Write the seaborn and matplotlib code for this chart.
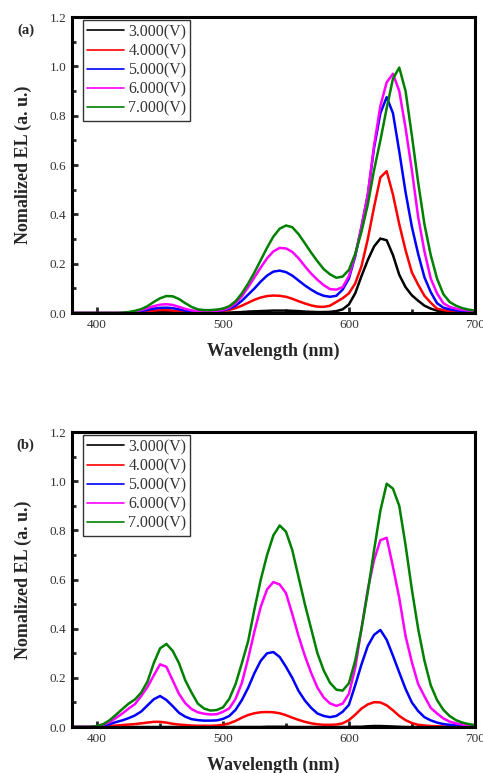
import numpy as np
import pandas as pd
import seaborn as sns
import matplotlib
matplotlib.use('Agg')
import matplotlib.pyplot as plt
from matplotlib.ticker import MultipleLocator

# Data (5 nm grid, 380 - 700 nm)
wavelength = list(range(380, 701, 5))

voltages = ["3.000(V)", "4.000(V)", "5.000(V)", "6.000(V)", "7.000(V)"]
colors = ["#000000", "#ff0000", "#0000ff", "#ff00ff", "#008000"]

# panel (a)
a_3v = [0, 0, 0, 0, 0, 0, 0, 0, 0, 0, 0, 0, 0.001,
        0.003, 0.005, 0.005, 0.004, 0.002, 0.002, 0.001, 0.001, 0.001, 0.001, 0.001, 0.002, 0.002,
        0.003, 0.004, 0.006, 0.007, 0.008, 0.009, 0.010, 0.010, 0.010, 0.009, 0.008, 0.006, 0.005,
        0.004, 0.004, 0.005, 0.008, 0.015, 0.035, 0.08, 0.15, 0.215, 0.27, 0.302, 0.295, 0.235,
        0.155, 0.105, 0.072, 0.05, 0.03, 0.018, 0.01, 0.006, 0.004, 0.003, 0.002, 0.001, 0.001]
a_4v = [0, 0, 0, 0, 0, 0, 0, 0, 0, 0, 0.002, 0.004, 0.007,
        0.010, 0.012, 0.012, 0.010, 0.007, 0.005, 0.004, 0.004, 0.004, 0.005, 0.006, 0.009, 0.013,
        0.020, 0.030, 0.042, 0.054, 0.063, 0.069, 0.071, 0.070, 0.066, 0.058, 0.048, 0.039, 0.031,
        0.026, 0.025, 0.03, 0.045, 0.06, 0.08, 0.12, 0.19, 0.30, 0.43, 0.55, 0.575, 0.48,
        0.36, 0.255, 0.165, 0.115, 0.07, 0.042, 0.018, 0.012, 0.008, 0.006, 0.005, 0.004, 0.003]
a_5v = [0, 0, 0, 0, 0, 0, 0, 0, 0, 0.002, 0.004, 0.008, 0.013,
        0.018, 0.021, 0.022, 0.020, 0.015, 0.010, 0.007, 0.006, 0.006, 0.006, 0.008, 0.011, 0.018,
        0.030, 0.050, 0.075, 0.100, 0.128, 0.152, 0.168, 0.172, 0.166, 0.152, 0.132, 0.112, 0.095,
        0.080, 0.070, 0.066, 0.070, 0.095, 0.14, 0.23, 0.35, 0.48, 0.67, 0.81, 0.875, 0.81,
        0.655, 0.49, 0.35, 0.24, 0.145, 0.085, 0.04, 0.022, 0.015, 0.011, 0.008, 0.006, 0.005]
a_6v = [0, 0, 0, 0, 0, 0, 0, 0, 0, 0.003, 0.006, 0.012, 0.020,
        0.028, 0.034, 0.036, 0.033, 0.025, 0.017, 0.011, 0.008, 0.007, 0.007, 0.009, 0.013, 0.022,
        0.040, 0.068, 0.105, 0.145, 0.185, 0.222, 0.250, 0.264, 0.262, 0.248, 0.222, 0.190, 0.160,
        0.135, 0.113, 0.097, 0.095, 0.105, 0.15, 0.235, 0.35, 0.48, 0.68, 0.84, 0.935, 0.97,
        0.90, 0.75, 0.58, 0.39, 0.25, 0.14, 0.08, 0.04, 0.025, 0.018, 0.013, 0.010, 0.008]
a_7v = [0, 0, 0, 0, 0, 0, 0, 0, 0.001, 0.004, 0.009, 0.016, 0.028,
        0.045, 0.060, 0.069, 0.068, 0.057, 0.040, 0.025, 0.015, 0.012, 0.012, 0.014, 0.018, 0.028,
        0.048, 0.080, 0.120, 0.165, 0.215, 0.265, 0.310, 0.342, 0.355, 0.348, 0.320, 0.283, 0.245,
        0.210, 0.178, 0.157, 0.143, 0.148, 0.175, 0.24, 0.33, 0.44, 0.58, 0.70, 0.83, 0.95,
        0.995, 0.90, 0.72, 0.53, 0.36, 0.235, 0.14, 0.077, 0.045, 0.03, 0.02, 0.014, 0.01]

# panel (b)
b_3v = [0, 0, 0, 0, 0, 0, 0, 0, 0, 0, 0, 0, 0,
        0, 0, 0, 0, 0, 0, 0, 0, 0, 0, 0, 0, 0,
        0, 0, 0, 0, 0, 0.001, 0.001, 0.001, 0.001, 0, 0, 0, 0,
        0, 0, 0, 0, 0, 0, 0.001, 0.001, 0.003, 0.004, 0.004, 0.003, 0.002,
        0.001, 0, 0, 0, 0, 0, 0, 0, 0, 0, 0, 0, 0]
b_4v = [0, 0, 0, 0, 0, 0.002, 0.004, 0.006, 0.008, 0.010, 0.012, 0.015, 0.018,
        0.021, 0.021, 0.018, 0.013, 0.010, 0.008, 0.006, 0.005, 0.005, 0.005, 0.006, 0.009, 0.015,
        0.025, 0.038, 0.049, 0.056, 0.060, 0.061, 0.060, 0.056, 0.048, 0.038, 0.029, 0.021, 0.015,
        0.011, 0.009, 0.009, 0.010, 0.015, 0.028, 0.05, 0.075, 0.092, 0.101, 0.10, 0.088, 0.068,
        0.045, 0.028, 0.016, 0.009, 0.006, 0.004, 0.003, 0.002, 0.002, 0.001, 0.001, 0.001, 0.001]
b_5v = [0, 0, 0, 0, 0.002, 0.005, 0.012, 0.020, 0.027, 0.036, 0.047, 0.063, 0.088,
        0.113, 0.126, 0.110, 0.085, 0.058, 0.042, 0.032, 0.028, 0.026, 0.026, 0.027, 0.033, 0.045,
        0.070, 0.110, 0.160, 0.220, 0.270, 0.300, 0.305, 0.285, 0.245, 0.200, 0.147, 0.108, 0.078,
        0.055, 0.045, 0.040, 0.045, 0.062, 0.09, 0.17, 0.255, 0.33, 0.375, 0.395, 0.355, 0.29,
        0.222, 0.155, 0.10, 0.065, 0.04, 0.027, 0.018, 0.012, 0.009, 0.007, 0.005, 0.004, 0.003]
b_6v = [0, 0, 0, 0, 0.003, 0.010, 0.020, 0.037, 0.055, 0.075, 0.093, 0.126, 0.163,
        0.210, 0.255, 0.245, 0.190, 0.135, 0.097, 0.073, 0.060, 0.054, 0.051, 0.052, 0.062, 0.076,
        0.115, 0.180, 0.280, 0.390, 0.490, 0.560, 0.590, 0.580, 0.545, 0.460, 0.370, 0.290, 0.220,
        0.160, 0.120, 0.096, 0.086, 0.095, 0.135, 0.24, 0.40, 0.56, 0.68, 0.76, 0.77, 0.652,
        0.525, 0.37, 0.264, 0.175, 0.125, 0.078, 0.055, 0.035, 0.022, 0.015, 0.010, 0.007, 0.005]
b_7v = [0, 0, 0, 0, 0.004, 0.012, 0.028, 0.050, 0.073, 0.095, 0.112, 0.140, 0.185,
        0.260, 0.320, 0.338, 0.310, 0.260, 0.190, 0.140, 0.095, 0.075, 0.067, 0.069, 0.080, 0.115,
        0.175, 0.260, 0.350, 0.480, 0.600, 0.700, 0.780, 0.820, 0.795, 0.720, 0.610, 0.500, 0.400,
        0.300, 0.230, 0.180, 0.152, 0.148, 0.178, 0.27, 0.40, 0.55, 0.72, 0.88, 0.99, 0.97,
        0.90, 0.74, 0.56, 0.40, 0.27, 0.17, 0.11, 0.07, 0.045, 0.028, 0.018, 0.012, 0.008]

panels = [("(a)", [a_3v, a_4v, a_5v, a_6v, a_7v]),
          ("(b)", [b_3v, b_4v, b_5v, b_6v, b_7v])]

sns.set_style("ticks")
plt.rcParams['font.family'] = ['Liberation Serif', 'DejaVu Serif']

fig = plt.figure(figsize=(4.83, 7.73), dpi=100)
# axes boxes in figure fractions (left, bottom, width, height)
boxes = [(0.149, 0.595, 0.834, 0.383), (0.149, 0.0595, 0.834, 0.3815)]

for (tag, series), box in zip(panels, boxes):
    ax = fig.add_axes(box)
    df = pd.DataFrame({"Wavelength": wavelength})
    for v, s in zip(voltages, series):
        df[v] = s
    long_df = df.melt(id_vars="Wavelength", var_name="Voltage", value_name="EL")

    sns.lineplot(data=long_df, x="Wavelength", y="EL", hue="Voltage",
                 hue_order=voltages, palette=colors, linewidth=1.8, ax=ax)

    ax.set_xlim(380, 700)
    ax.set_ylim(0, 1.2)
    ax.xaxis.set_major_locator(MultipleLocator(100))
    ax.xaxis.set_minor_locator(MultipleLocator(50))
    ax.yaxis.set_major_locator(MultipleLocator(0.2))
    ax.yaxis.set_minor_locator(MultipleLocator(0.1))
    ax.yaxis.set_major_formatter(matplotlib.ticker.FormatStrFormatter('%.1f'))
    ax.tick_params(which='major', direction='in', length=4, width=2, labelsize=9.5,
                   labelcolor='#333333', pad=4)
    ax.tick_params(which='minor', direction='in', length=3, width=2)
    for sp in ax.spines.values():
        sp.set_linewidth(2.2)
        sp.set_color('black')

    ax.set_xlabel("Wavelength (nm)", fontsize=13, fontweight='bold', labelpad=9)
    ax.set_ylabel("Nomalized EL (a. u.)", fontsize=13, fontweight='bold', labelpad=13)

    handles, labels = ax.get_legend_handles_labels()
    leg = ax.legend(handles, labels, loc='upper left', bbox_to_anchor=(0.027, 0.99),
                    borderaxespad=0, fontsize=11.5, frameon=True, fancybox=False,
                    framealpha=1, edgecolor='#333333', handlelength=2.3,
                    handletextpad=0.3, labelspacing=0.2, borderpad=0.25)
    leg.get_frame().set_linewidth(1.0)
    for line in leg.get_lines():
        line.set_linewidth(1.2)
    for t in leg.get_texts():
        t.set_color('#333333')

    ax.text(-0.115, 0.955, tag, transform=ax.transAxes, fontsize=10.5,
            fontweight='bold', ha='center', va='center')

fig.savefig("out.png", dpi=100)
